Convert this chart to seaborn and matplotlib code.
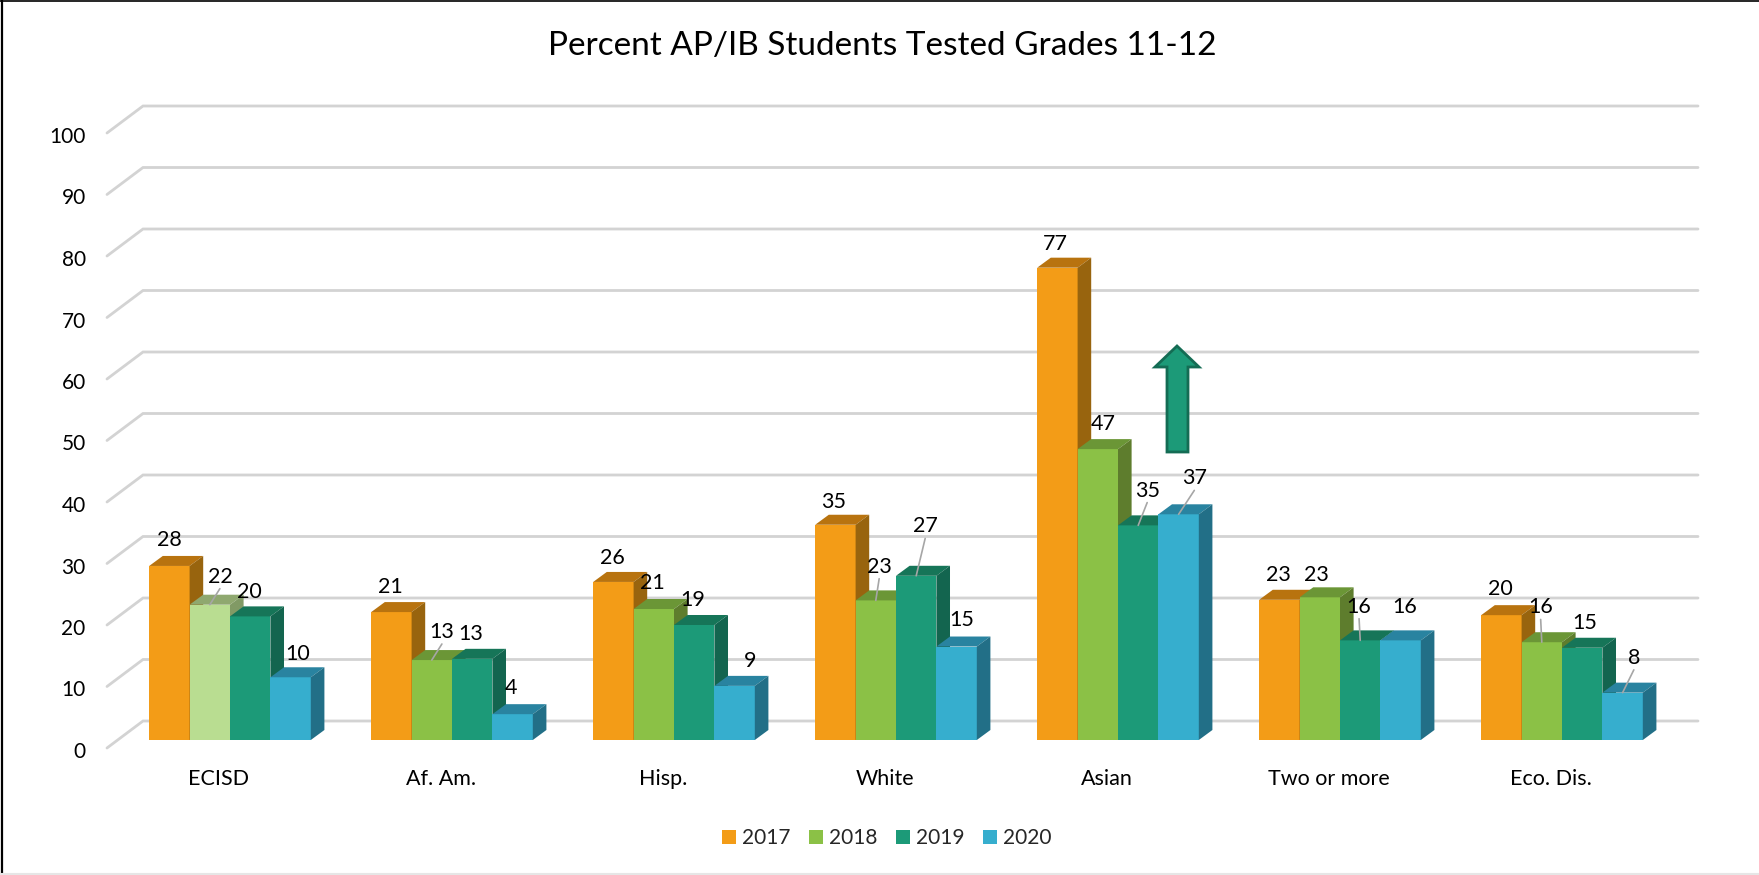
import matplotlib
matplotlib.use("Agg")
import matplotlib.pyplot as plt
import pandas as pd
import seaborn as sns
from matplotlib.patches import Polygon
from matplotlib.transforms import ScaledTranslation

groups = ["ECISD", "Af. Am.", "Hisp.", "White", "Asian", "Two or more", "Eco. Dis."]
years = ["2017", "2018", "2019", "2020"]
vals_2017 = [28.3, 20.8, 25.7, 35.0, 76.8, 22.8, 20.3]
vals_2018 = [22.0, 13.0, 21.3, 22.7, 47.3, 23.2, 15.9]
vals_2019 = [20.1, 13.2, 18.7, 26.7, 34.9, 16.2, 15.0]
vals_2020 = [10.2, 4.2, 8.8, 15.2, 36.7, 16.2, 7.7]

# label offsets from top of bar, px of the shrunk picture (x, up)
label_off = {
    "2017": [(0, 23), (-1, 22), (-1, 21), (-2, 20), (-2, 21), (-1, 22), (-1, 23)],
    "2018": [(9, 25), (9, 25), (-1, 23), (3, 30), (5, 22), (-3, 20), (-1, 31)],
    "2019": [(-1, 22), (-1, 22), (-1, 22), (8, 44), (8, 31), (-1, 30), (2, 22)],
    "2020": [(6, 21), (-1, 23), (14, 22), (5, 24), (14, 32), (4, 30), (10, 31)],
}
# bars that have a leader line to the label
leaders = [("2018", 0), ("2018", 1), ("2018", 3), ("2019", 3), ("2019", 4),
           ("2020", 4), ("2019", 5), ("2018", 6), ("2020", 6)]

front = {"2017": "#F39C17", "2018": "#8BC146", "2019": "#1C9A78", "2020": "#36AECE"}
top = {"2017": "#B8730F", "2018": "#6B9636", "2019": "#167558", "2020": "#2983A0"}
side = {"2017": "#98640E", "2018": "#5E7D2D", "2019": "#13654F", "2020": "#226F87"}

W, H = 1759, 875
# pixel layout of the plot
X0, PERIOD = 230, 222
Y0, PER_UNIT = 740, 6.15
SHRINK = 1759 / 1568

df = pd.DataFrame({
    "group": groups * 4,
    "year": [y for y in years for _ in groups],
    "value": vals_2017 + vals_2018 + vals_2019 + vals_2020,
})

sns.set_theme(style="white")
plt.rcParams["font.family"] = ["Lato", "DejaVu Sans"]

fig = plt.figure(figsize=(W / 100, H / 100), dpi=100)
left = X0 - PERIOD / 2
right = X0 + 6.5 * PERIOD
ax = fig.add_axes([left / W, 1 - Y0 / H, (right - left) / W, 100 * PER_UNIT / H])

sns.barplot(data=df, x="group", y="value", hue="year", order=groups, hue_order=years,
            palette=front, width=0.728, gap=0, saturation=1, ax=ax,
            linewidth=0, errorbar=None)
ax.set_xlim(-0.5, 6.5)
ax.set_ylim(0, 100)
ax.set_xlabel("")
ax.set_ylabel("")
sns.despine(ax=ax, left=True, bottom=True)


def px_x(p):
    return (p - X0) / PERIOD


def px_y(p):
    return (Y0 - p) / PER_UNIT


# back wall grid and the slanted bit to the left
grid_col = "#d3d3d3"
for v in range(0, 101, 10):
    yb = v + (Y0 - 721) / PER_UNIT
    yf = v - (748 - Y0) / PER_UNIT
    ax.plot([px_x(107), px_x(143), px_x(1698)], [yf, yb, yb], color=grid_col, lw=2,
            zorder=1, clip_on=False, solid_joinstyle="miter")

dep_x = 13.6 / PERIOD
dep_y = 10 / PER_UNIT
z = 3
for year, cont in zip(years, ax.containers):
    vals = df[df["year"] == year]["value"].tolist()
    for i, bar in enumerate(cont):
        x0 = bar.get_x()
        x1 = x0 + bar.get_width()
        h = bar.get_height()
        c_front, c_top, c_side = front[year], top[year], side[year]
        if year == "2018" and i == 0:
            # this one is highlighted pale in the original
            c_front, c_top, c_side = "#B9DD91", "#8FA86F", "#819A65"
            bar.set_facecolor(c_front)
        bar.set_zorder(z + i * 10)
        ax.add_patch(Polygon([(x0, h), (x1, h), (x1 + dep_x, h + dep_y), (x0 + dep_x, h + dep_y)],
                             closed=True, fc=c_top, ec="none", zorder=z + i * 10, clip_on=False))
        ax.add_patch(Polygon([(x1, 0), (x1 + dep_x, dep_y), (x1 + dep_x, h + dep_y), (x1, h)],
                             closed=True, fc=c_side, ec="none", zorder=z + i * 10, clip_on=False))

        dx, dy = label_off[year][i]
        cx = (x0 + x1) / 2
        lx = cx + dx * SHRINK / PERIOD
        ly = h + dy * SHRINK / PER_UNIT
        ax.text(lx, ly, str(round(vals[i])), ha="center", va="center", fontsize=15.5,
                color="black", zorder=100)
        if (year, i) in leaders:
            ax.plot([cx, lx], [h, ly - 12 / PER_UNIT], color="#a6a6a6", lw=1.2,
                    zorder=99, clip_on=False)
    z += 1

# the arrow over the Asian group
arrow_px = [(1177, 346), (1199, 367), (1188, 367), (1188, 452),
            (1167, 452), (1167, 367), (1155, 367)]
ax.add_patch(Polygon([(px_x(a), px_y(b)) for a, b in arrow_px], closed=True,
                     fc="#1C9A78", ec="#146C54", lw=2, zorder=90, clip_on=False))

ax.set_yticks(range(0, 101, 10))
ax.tick_params(axis="y", length=0, pad=24, labelsize=15, colors="black")
ax.tick_params(axis="x", length=0, pad=21, labelsize=15.5, colors="black")
for lab in ax.get_yticklabels():
    lab.set_transform(lab.get_transform() + ScaledTranslation(0, -10 / 100, fig.dpi_scale_trans))
for lab in ax.get_xticklabels():
    lab.set_transform(lab.get_transform() + ScaledTranslation(-11 / 100, 0, fig.dpi_scale_trans))

handles, labels = ax.get_legend_handles_labels()
ax.legend(handles, labels, ncol=4, frameon=False, loc="center", fontsize=15,
          bbox_to_anchor=(887 / W, 1 - 838 / H), bbox_transform=fig.transFigure,
          handlelength=0.68, handleheight=0.68, handletextpad=0.29, columnspacing=0.88,
          borderpad=0, borderaxespad=0)

fig.text(882 / W, 1 - 46 / H, "Percent AP/IB Students Tested Grades 11-12", ha="center",
         va="center", fontsize=24, color="black")

# frame of the picture: black left and top, pale bottom
fig.add_artist(plt.Line2D([0.001, 0.001], [0, 1], color="black", lw=1.6))
fig.add_artist(plt.Line2D([0, 1], [0.9988, 0.9988], color="black", lw=1.2))
fig.add_artist(plt.Line2D([0, 1], [0.001, 0.001], color="#e6e6e6", lw=1.5))

fig.savefig("out.png", dpi=100)
